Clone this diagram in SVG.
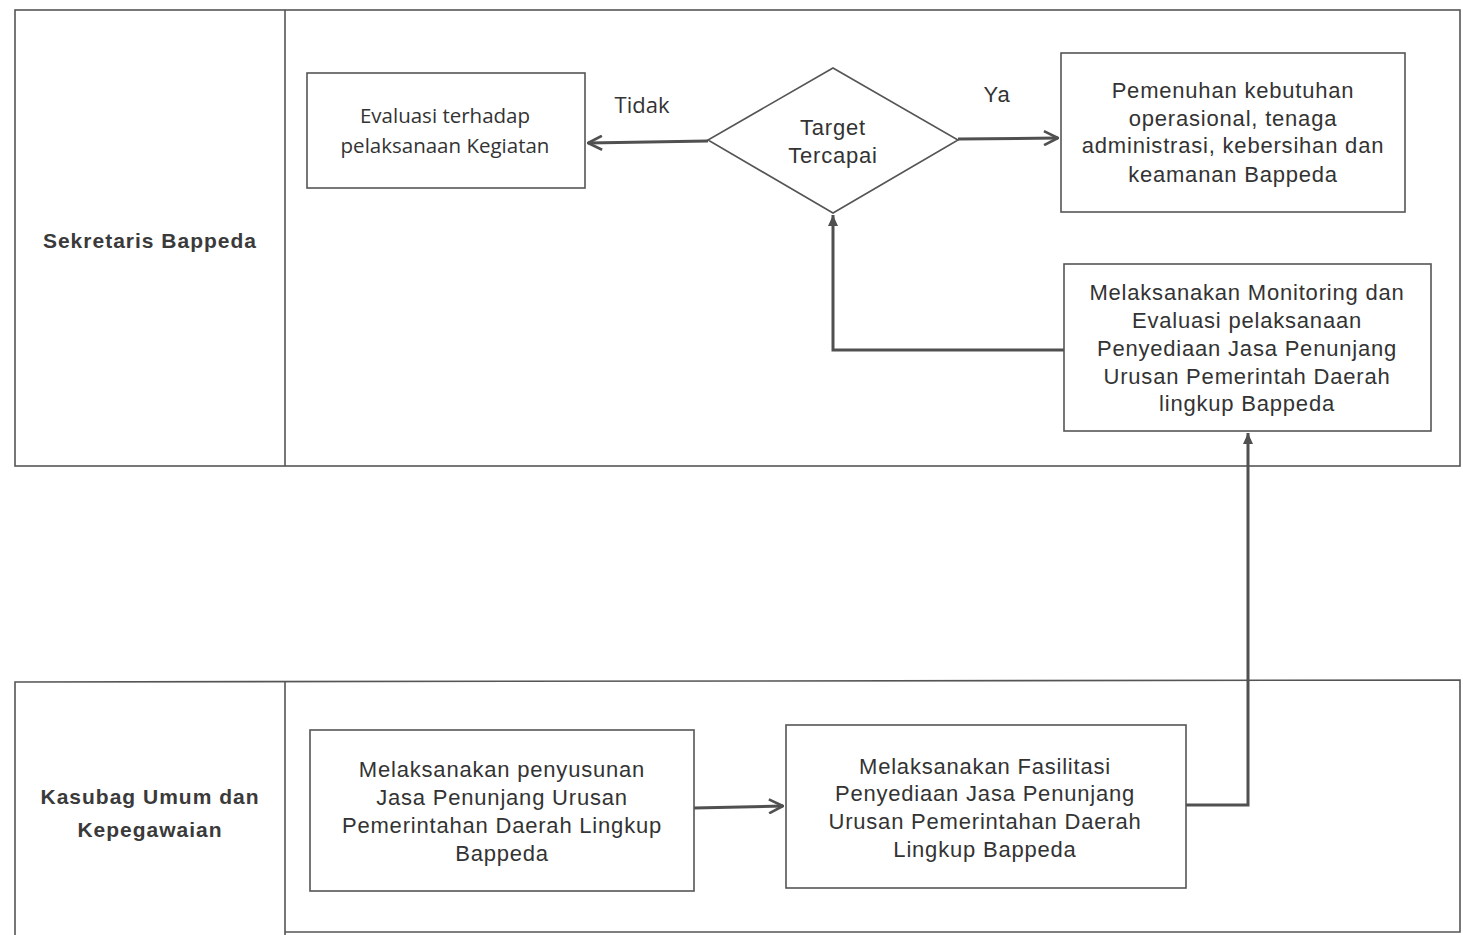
<svg xmlns="http://www.w3.org/2000/svg" width="1463" height="935" viewBox="0 0 1463 935">
<style>
.lane{fill:none;stroke:#555;stroke-width:1.6}
.box{fill:#fff;stroke:#555;stroke-width:1.6}
.t{font-family:"Liberation Sans",Arial,sans-serif;font-size:22px;letter-spacing:0.8px;fill:#333;text-anchor:middle}
.c{font-family:"Open Sans","Noto Sans",sans-serif;font-size:20.5px;fill:#333;text-anchor:middle}
.b{font-family:"Liberation Sans",Arial,sans-serif;font-size:21px;letter-spacing:1px;font-weight:bold;fill:#3a3a3a;text-anchor:middle}
.con{fill:none;stroke:#505050;stroke-width:3}
</style>
<defs>
<marker id="ar" viewBox="0 0 16 16" refX="15" refY="8" markerWidth="16" markerHeight="16" orient="auto" markerUnits="userSpaceOnUse">
<path d="M1,1 L15,8 L1,15" fill="none" stroke="#505050" stroke-width="2.6"/>
</marker>
<marker id="af" viewBox="0 0 12 12" refX="11" refY="6" markerWidth="12" markerHeight="12" orient="auto" markerUnits="userSpaceOnUse">
<path d="M0,1 L11,6 L0,11 Z" fill="#505050"/>
</marker>
</defs>
<rect width="1463" height="935" fill="#fff"/>
<g id="lane-sekretaris">
<rect class="lane" x="15" y="10" width="1445" height="456"/>
<line class="lane" x1="285" y1="10" x2="285" y2="466"/>
<text class="b" x="150" y="248">Sekretaris Bappeda</text>
</g>
<g id="lane-kasubag">
<path class="lane" d="M15,935 L15,682 L1460,680 L1460,932 L285,932"/>
<line class="lane" x1="285" y1="682" x2="285" y2="935"/>
<text class="b" x="150" y="804">Kasubag Umum dan</text>
<text class="b" x="150" y="837">Kepegawaian</text>
</g>
<g id="connectors">
<line class="con" x1="708" y1="141" x2="588" y2="143" marker-end="url(#ar)"/>
<line class="con" x1="958" y1="139" x2="1058" y2="138" marker-end="url(#ar)"/>
<polyline class="con" points="1064,350 833,350 833,215" marker-end="url(#af)"/>
<line class="con" x1="694" y1="808" x2="783" y2="806" marker-end="url(#ar)"/>
<polyline class="con" points="1186,805 1248,805 1248,433" marker-end="url(#af)"/>
<text class="c" x="642" y="113" style="font-size:22px">Tidak</text>
<text class="t" x="997" y="102">Ya</text>
</g>
<g id="evaluasi">
<rect class="box" x="307" y="73" width="278" height="115"/>
<text class="c" x="445" y="123">Evaluasi terhadap</text>
<text class="c" x="445" y="153">pelaksanaan Kegiatan</text>
</g>
<g id="target">
<polygon class="box" points="833,68 958,140 833,213 708,140"/>
<text class="t" x="833" y="135">Target</text>
<text class="t" x="833" y="163">Tercapai</text>
</g>
<g id="pemenuhan">
<rect class="box" x="1061" y="53" width="344" height="159"/>
<text class="t" x="1233" y="98">Pemenuhan kebutuhan</text>
<text class="t" x="1233" y="126">operasional, tenaga</text>
<text class="t" x="1233" y="153">administrasi, kebersihan dan</text>
<text class="t" x="1233" y="182">keamanan Bappeda</text>
</g>
<g id="monitoring">
<rect class="box" x="1064" y="264" width="367" height="167"/>
<text class="t" x="1247" y="300">Melaksanakan Monitoring dan</text>
<text class="t" x="1247" y="328">Evaluasi pelaksanaan</text>
<text class="t" x="1247" y="356">Penyediaan Jasa Penunjang</text>
<text class="t" x="1247" y="384">Urusan Pemerintah Daerah</text>
<text class="t" x="1247" y="411">lingkup Bappeda</text>
</g>
<g id="penyusunan">
<rect class="box" x="310" y="730" width="384" height="161"/>
<text class="t" x="502" y="777">Melaksanakan penyusunan</text>
<text class="t" x="502" y="805">Jasa Penunjang Urusan</text>
<text class="t" x="502" y="833">Pemerintahan Daerah Lingkup</text>
<text class="t" x="502" y="861">Bappeda</text>
</g>
<g id="fasilitasi">
<rect class="box" x="786" y="725" width="400" height="163"/>
<text class="t" x="985" y="774">Melaksanakan Fasilitasi</text>
<text class="t" x="985" y="801">Penyediaan Jasa Penunjang</text>
<text class="t" x="985" y="829">Urusan Pemerintahan Daerah</text>
<text class="t" x="985" y="857">Lingkup Bappeda</text>
</g>
</svg>
